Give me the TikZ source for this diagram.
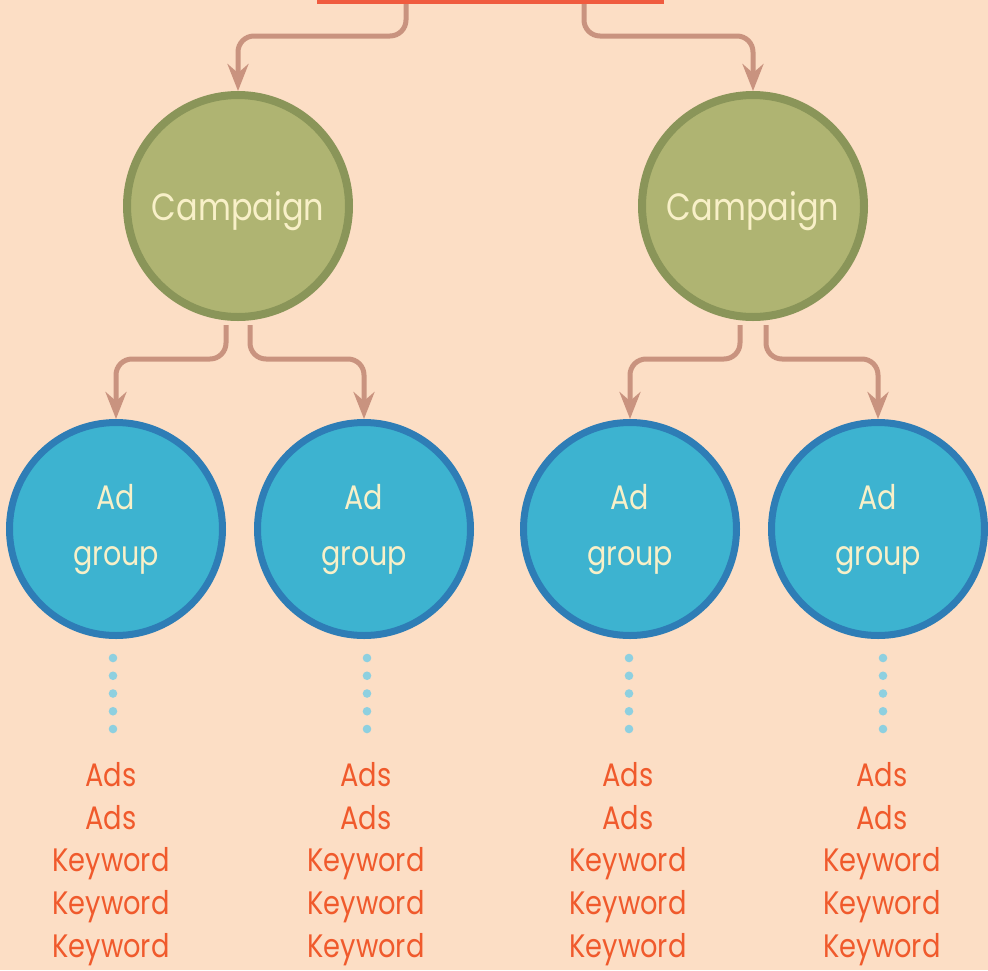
\documentclass[tikz,border=0pt]{standalone}
\usepackage{fontspec}
\setmainfont{Poppins}
\newfontfamily\labelfont[FakeStretch=0.84]{Poppins}
\usetikzlibrary{arrows.meta}

\definecolor{bgpeach}{HTML}{FCDEC5}
\definecolor{barred}{HTML}{F05B3F}
\definecolor{linkbrown}{HTML}{C9937F}
\definecolor{campfill}{HTML}{AFB472}
\definecolor{campedge}{HTML}{8A9559}
\definecolor{adfill}{HTML}{3DB3D0}
\definecolor{adedge}{HTML}{2E7DB6}
\definecolor{cream}{HTML}{F8F0C8}
\definecolor{dotblue}{HTML}{8ED0E0}
\definecolor{itemred}{HTML}{F05A2C}

\tikzset{
  campaign/.style={circle, draw=campedge, fill=campfill, line width=8pt,
    minimum size=222pt, inner sep=0pt, text=cream,
    font=\labelfont\fontsize{38}{40}\selectfont},
  adgroup/.style={circle, draw=adedge, fill=adfill, line width=7pt,
    minimum size=213pt, inner sep=0pt, text=cream, align=center,
    font=\labelfont\fontsize{34}{56}\selectfont},
  items/.style={align=center, text=itemred, inner sep=0pt,
    font=\labelfont\fontsize{32.5}{42.6}\selectfont},
  conn/.style={draw=linkbrown, line width=5pt, rounded corners=16pt,
    -{Stealth[length=27pt,width=21pt,inset=9pt]}},
  dot/.style={fill=dotblue}
}
% baseline of a campaign title sits a little below the circle centre
\newcommand{\camptitle}[1]{\raisebox{-14pt}[0pt][0pt]{#1}}

\begin{document}
\begin{tikzpicture}[x=1pt,y=-1pt]
  % canvas
  \fill[bgpeach] (0,0) rectangle (988,970);
  \useasboundingbox (0,0) rectangle (988,970);

  % top bar
  \fill[barred] (317,-1) rectangle (664,4);
  \coordinate (barL) at (406,4);
  \coordinate (barR) at (584,4);

  % campaigns
  \node[campaign] (c1) at (238,206) {\camptitle{Campaign}};
  \node[campaign] (c2) at (753,206) {\camptitle{Campaign}};

  % ad groups
  \node[adgroup] (a1) at (116,529) {Ad\\group};
  \node[adgroup] (a2) at (364,529) {Ad\\group};
  \node[adgroup] (a3) at (630,529) {Ad\\group};
  \node[adgroup] (a4) at (878,529) {Ad\\group};

  % links from the bar to the campaigns
  \draw[conn] (barL) |- (c1.north |- 0,36) -- (c1.north);
  \draw[conn] (barR) |- (c2.north |- 0,36) -- (c2.north);

  % links from the campaigns to the ad groups
  \draw[conn] ([xshift=-12pt,yshift=-4pt]c1.south) |- (a1.north |- 0,359) -- (a1.north);
  \draw[conn] ([xshift=12pt,yshift=-4pt]c1.south) |- (a2.north |- 0,359) -- (a2.north);
  \draw[conn] ([xshift=-13pt,yshift=-4pt]c2.south) |- (a3.north |- 0,359) -- (a3.north);
  \draw[conn] ([xshift=13pt,yshift=-4pt]c2.south) |- (a4.north |- 0,359) -- (a4.north);

  % dotted trails and item lists
  \foreach \g/\x/\tx in {a1/113/111, a2/367/366, a3/629/628, a4/883/882} {
    \coordinate (\g trail) at (\x,658);
    \foreach \k in {0,...,4}
      \fill[dot] ([yshift=-17.75*\k]\g trail) circle (4.3pt);
    \node[items] (\g list) at (\tx,864) {Ads\\Ads\\Keyword\\Keyword\\Keyword};
  }
\end{tikzpicture}
\end{document}
